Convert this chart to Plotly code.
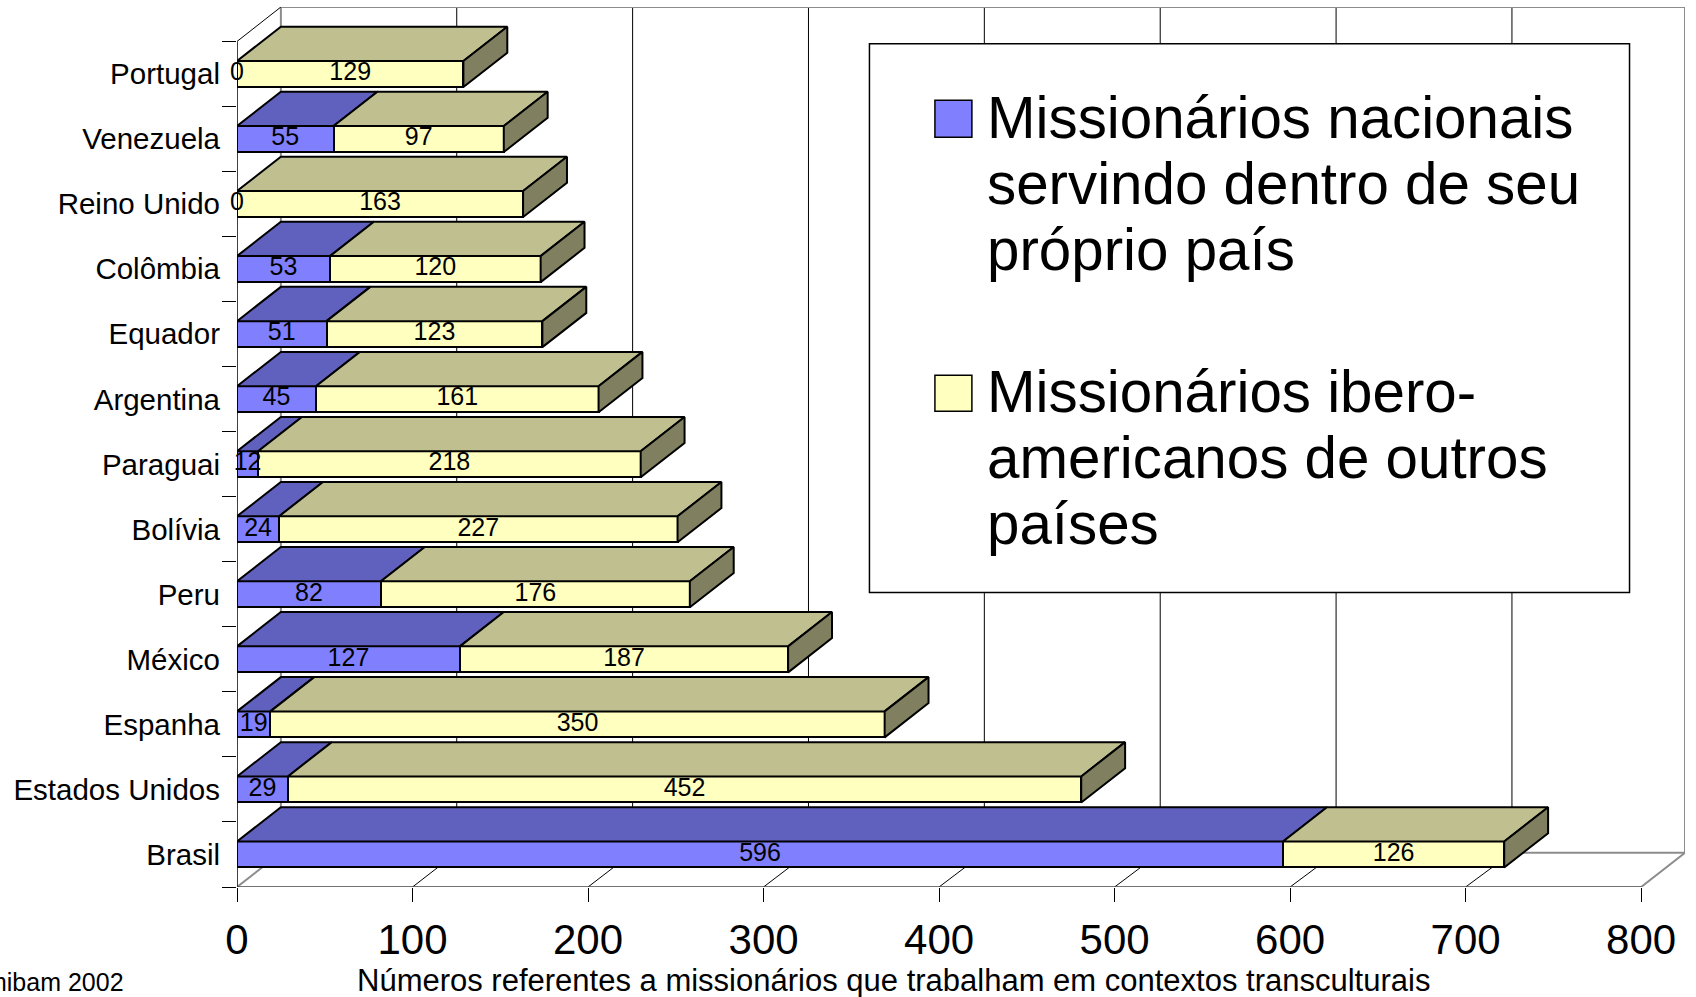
import plotly.graph_objects as go

categories = ["Brasil", "Estados Unidos", "Espanha", "México", "Peru", "Bolívia", "Paraguai",
              "Argentina", "Equador", "Colômbia", "Reino Unido", "Venezuela", "Portugal"]
nacionais = [596, 29, 19, 127, 82, 24, 12, 45, 51, 53, 0, 55, 0]
ibero = [126, 452, 350, 187, 176, 227, 218, 161, 123, 120, 163, 97, 129]
x_ticks = [0, 100, 200, 300, 400, 500, 600, 700, 800]
legend_nacionais = ["Missionários nacionais", "servindo dentro de seu", "próprio país"]
legend_ibero = ["Missionários ibero-", "americanos de outros", "países"]
source_text = "Comibam 2002"
x_title = "Números referentes a missionários que trabalham em contextos transculturais"

W, H = 1696, 997
L, R, T, B = 236.7, 1685.5, 6.7, 887.0
FONT = "Liberation Sans, Arial, sans-serif"
DX, DY = 25.0, 0.527         # depth of the 3-D projection in axis units
HALF = 0.2                   # half the bar thickness in category units
YMIN = -0.5
YMAX = 13.03
XMAX = 800 + DX
BACK_SCALE = 1.002           # the back wall is very slightly wider than the front plane
BLUE, BLUE_TOP = "#8080FF", "#6060BF"
YEL, YEL_TOP, YEL_SIDE = "#FFFFC0", "#BFBF90", "#808060"
GREY = "#8C8C8C"
DARK = "#000000"
rows = list(range(len(categories)))
fig = go.Figure()

fig.add_trace(go.Bar(y=rows, x=nacionais, orientation="h", width=2 * HALF, marker_color=BLUE,
                     marker_line=dict(color="black", width=2), name="Missionários nacionais"))
fig.add_trace(go.Bar(y=rows, x=ibero, orientation="h", width=2 * HALF, marker_color=YEL,
                     marker_line=dict(color="black", width=2), name="Missionários ibero-americanos"))


def poly(xs, ys, color):
    fig.add_trace(go.Scatter(x=xs, y=ys, mode="lines", fill="toself", fillcolor=color,
                             line=dict(color="black", width=2), hoverinfo="skip", cliponaxis=False))


blue_x, blue_y, top_x, top_y, side_x, side_y = [], [], [], [], [], []
for r, a, b in zip(rows, nacionais, ibero):
    t = r + HALF
    if a:
        blue_x += [0, DX, a + DX, a, 0, None]
        blue_y += [t, t + DY, t + DY, t, t, None]
    top_x += [a, a + DX, a + b + DX, a + b, a, None]
    top_y += [t, t + DY, t + DY, t, t, None]
    e = a + b
    side_x += [e, e + DX, e + DX, e, e, None]
    side_y += [t, t + DY, t + DY - 2 * HALF, t - 2 * HALF, t, None]
poly(blue_x, blue_y, BLUE_TOP)
poly(top_x, top_y, YEL_TOP)
poly(side_x, side_y, YEL_SIDE)

# value labels
lx, ly, lt = [], [], []
for r, a, b in zip(rows, nacionais, ibero):
    lx += [a / 2, a + b / 2]
    ly += [r, r]
    lt += [str(a), str(b)]
fig.add_trace(go.Scatter(x=lx, y=ly, text=lt, mode="text", textposition="middle center", cliponaxis=False,
                         textfont=dict(family=FONT, size=25, color="black"), hoverinfo="skip"))

# walls, floor and gridlines
shapes = []


def seg(x0, y0, x1, y1, color, width):
    shapes.append(dict(type="line", xref="x", yref="y", x0=x0, y0=y0, x1=x1, y1=y1,
                       layer="below", line=dict(color=color, width=width)))


for v in x_ticks[1:-1]:
    back = DX + v * BACK_SCALE
    seg(back, YMIN + DY, back, YMAX, DARK, 1)
    seg(v, YMIN, back, YMIN + DY, DARK, 1)
seg(DX, YMIN + DY, DX, YMAX, GREY, 2)
seg(800 + DX, YMIN + DY, 800 + DX, YMAX, GREY, 2)
seg(DX, YMAX, 800 + DX, YMAX, GREY, 2)
seg(DX, YMIN + DY, 800 + DX, YMIN + DY, GREY, 2)
seg(0, YMIN, DX, YMIN + DY, GREY, 2)
seg(800, YMIN, 800 + DX, YMIN + DY, GREY, 2)
seg(0, 12.5, DX, YMAX, DARK, 1)
seg(0, YMIN, 0, 12.5, DARK, 1.5)
seg(0, YMIN, 800, YMIN, "#444444", 1.5)


# legend box (pixel positions converted to paper coordinates)
def pxa(x):
    return (x - L) / (R - L)


def pya(y):
    return (B - y) / (B - T)


def rect(x0, y0, x1, y1, fill, width):
    shapes.append(dict(type="rect", xref="paper", yref="paper", x0=pxa(x0), x1=pxa(x1),
                       y0=pya(y0), y1=pya(y1), fillcolor=fill, layer="above",
                       line=dict(color="black", width=width)))


rect(869.5, 43.5, 1630, 592.5, "white", 1.5)
rect(935, 100, 972, 137, BLUE, 1.5)
rect(935, 375, 972, 411, YEL, 1.5)

annotations = []
for lines, first_base in ((legend_nacionais, 138), (legend_ibero, 412)):
    for i, line in enumerate(lines):
        annotations.append(dict(x=pxa(985), y=pya(first_base + 66 * i - 20.5), text=line,
                                xanchor="left", yanchor="middle", align="left",
                                xref="paper", yref="paper", showarrow=False,
                                font=dict(family=FONT, size=58.3, color="black")))
annotations += [
    dict(x=pxa(893.5), y=pya(981), text=x_title, xanchor="center", yanchor="middle",
         xref="paper", yref="paper", showarrow=False, font=dict(family=FONT, size=31, color="black")),
    dict(x=pxa(126), y=pya(982), text=source_text, xanchor="right", yanchor="middle",
         xref="paper", yref="paper", showarrow=False, font=dict(family=FONT, size=25, color="black")),
]

fig.update_layout(
    width=W, height=H, barmode="stack", bargap=0, showlegend=False,
    paper_bgcolor="white", plot_bgcolor="white",
    margin=dict(l=L, r=W - R, t=T, b=H - B, autoexpand=False),
    shapes=shapes, annotations=annotations,
    xaxis=dict(range=[0, XMAX], tickmode="array", tickvals=x_ticks, ticks="outside", ticklen=14,
               tickcolor=DARK, tickwidth=1, showgrid=False, zeroline=False, showline=False,
               ticklabelstandoff=2,
               tickfont=dict(family=FONT, size=42, color="black")),
    yaxis=dict(range=[YMIN, YMAX], tickmode="array", tickvals=rows, ticktext=categories, ticks="",
               showgrid=False, zeroline=False, showline=False,
               ticklabelstandoff=16, tickfont=dict(family=FONT, size=29.5, color="black"),
               minor=dict(tickmode="linear", tick0=-0.5, dtick=1, ticks="outside", ticklen=14,
                          tickcolor=DARK, tickwidth=1, showgrid=False)),
)
fig.write_html("out.html", config={"displayModeBar": False},
               post_script="document.body.style.margin='0';")
